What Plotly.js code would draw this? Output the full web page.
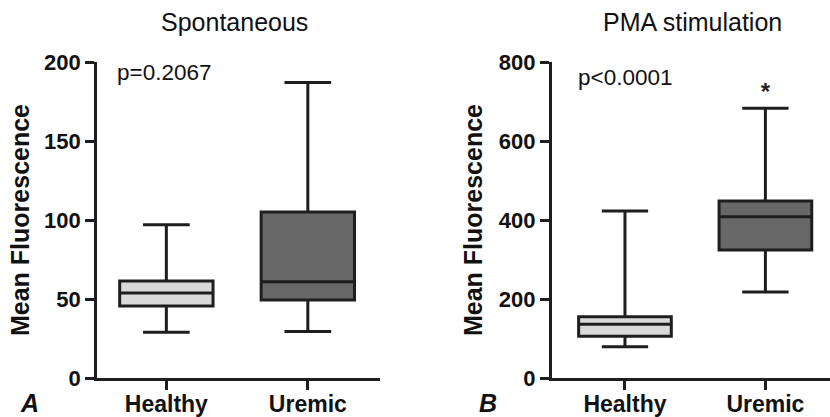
<!DOCTYPE html>
<html>
<head>
<meta charset="utf-8">
<script src="https://cdn.plot.ly/plotly-3.0.1.min.js"></script>
<style>html,body{margin:0;padding:0;background:#fff}#chart{width:830px;height:417px}</style>
</head>
<body>
<div id="chart"></div>
<script>
// ---- data ----
const categories = ['Healthy', 'Uremic'];
// Panel A: Spontaneous
const spontLower  = [29, 29.5];
const spontQ1     = [45.6, 49.4];
const spontMedian = [53.8, 61];
const spontQ3     = [61.4, 105];
const spontUpper  = [97, 187];
// Panel B: PMA stimulation
const pmaLower  = [79, 218];
const pmaQ1     = [106, 324];
const pmaMedian = [136, 408];
const pmaQ3     = [155, 448];
const pmaUpper  = [423, 683];
const pmaOutlierCat = ['Uremic'];
const pmaOutlierVal = [720];
const yTicksA = [0, 50, 100, 150, 200];
const yTicksB = [0, 200, 400, 600, 800];

const fills = ['#d9d9d9', '#676767'];
const lineCol = '#1e1e1e';
const FONT = 'Liberation Sans, Arial, sans-serif';

function boxes(lower, q1, med, q3, upper, xa, ya) {
  return categories.map((c, i) => ({
    type: 'box', x: [c], lowerfence: [lower[i]], q1: [q1[i]], median: [med[i]],
    q3: [q3[i]], upperfence: [upper[i]], boxpoints: false,
    fillcolor: fills[i], line: {color: lineCol, width: 3},
    whiskerwidth: 0.5, width: 0.66, xaxis: xa, yaxis: ya,
    showlegend: false, hoverinfo: 'y'
  }));
}

const data = [
  ...boxes(spontLower, spontQ1, spontMedian, spontQ3, spontUpper, 'x', 'y'),
  ...boxes(pmaLower, pmaQ1, pmaMedian, pmaQ3, pmaUpper, 'x2', 'y2'),
  {type: 'scatter', mode: 'text', x: pmaOutlierCat, y: pmaOutlierVal, text: pmaOutlierVal.map(() => '<b>*</b>'),
   textfont: {family: FONT, size: 24, color: lineCol}, textposition: 'middle center',
   xaxis: 'x2', yaxis: 'y2', showlegend: false, hoverinfo: 'y'}
];

const xCommon = {
  type: 'category', categoryorder: 'array', categoryarray: categories,
  showline: true, linecolor: lineCol, linewidth: 3, ticks: 'outside', ticklen: 9,
  tickwidth: 3, tickcolor: lineCol, showgrid: false, zeroline: false, ticklabelstandoff: -6,
  tickfont: {family: FONT, size: 23, color: '#111', weight: 'bold'}, fixedrange: true
};
const yCommon = {
  showline: true, linecolor: lineCol, linewidth: 3, ticks: 'outside', ticklen: 9,
  tickwidth: 3, tickcolor: lineCol, showgrid: false, zeroline: false,
  tickfont: {family: FONT, size: 22, color: '#111', weight: 'bold'},
  domain: [0.0935, 0.8513], fixedrange: true
};

const layout = {
  width: 830, height: 417,
  margin: {l: 0, r: 0, t: 0, b: 0},
  paper_bgcolor: '#fff', plot_bgcolor: '#fff',
  boxmode: 'overlay', showlegend: false,
  xaxis: Object.assign({}, xCommon, {domain: [0.1169, 0.4578], range: [-0.49, 1.51], anchor: 'y'}),
  yaxis: Object.assign({}, yCommon, {range: [0, 200], tickvals: yTicksA, anchor: 'x',
    title: {text: 'Mean Fluorescence', standoff: 8, font: {family: FONT, size: 25, color: '#111', weight: 'bold'}}}),
  xaxis2: Object.assign({}, xCommon, {domain: [0.665, 1], range: [-0.52, 1.46], anchor: 'y2'}),
  yaxis2: Object.assign({}, yCommon, {range: [0, 800], tickvals: yTicksB, anchor: 'x2',
    title: {text: 'Mean Fluorescence', standoff: 10, font: {family: FONT, size: 25, color: '#111', weight: 'bold'}}}),
  annotations: [
    {text: 'Spontaneous', xref: 'paper', yref: 'paper', x: 234/830, y: 1 - 22/417, showarrow: false,
     xanchor: 'center', yanchor: 'middle', font: {family: FONT, size: 25, color: '#111'}},
    {text: 'PMA stimulation', xref: 'paper', yref: 'paper', x: 692/830, y: 1 - 22/417, showarrow: false,
     xanchor: 'center', yanchor: 'middle', font: {family: FONT, size: 25, color: '#111'}},
    {text: 'p=0.2067', xref: 'paper', yref: 'paper', x: 115/830, y: 1 - 72/417, showarrow: false,
     xanchor: 'left', yanchor: 'middle', font: {family: FONT, size: 22.5, color: '#111'}},
    {text: 'p<0.0001', xref: 'paper', yref: 'paper', x: 576/830, y: 1 - 78/417, showarrow: false,
     xanchor: 'left', yanchor: 'middle', font: {family: FONT, size: 22.5, color: '#111'}},
    {text: '<b><i>A</i></b>', xref: 'paper', yref: 'paper', x: 29/830, y: 1 - 403/417, showarrow: false,
     xanchor: 'center', yanchor: 'middle', font: {family: FONT, size: 25, color: '#111'}},
    {text: '<b><i>B</i></b>', xref: 'paper', yref: 'paper', x: 488/830, y: 1 - 403/417, showarrow: false,
     xanchor: 'center', yanchor: 'middle', font: {family: FONT, size: 25, color: '#111'}}
  ]
};

Plotly.newPlot('chart', data, layout, {displayModeBar: false, staticPlot: true});
</script>
</body>
</html>
